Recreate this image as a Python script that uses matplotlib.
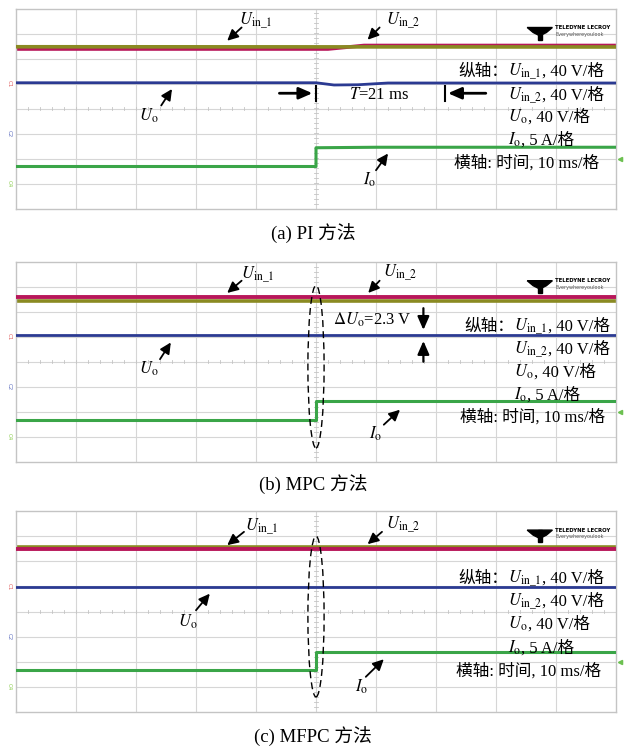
import numpy as np
import matplotlib
matplotlib.use('Agg')
import matplotlib.pyplot as plt
from matplotlib.patches import Ellipse

plt.rcParams['font.family'] = ['Liberation Serif', 'Noto Sans CJK SC']
plt.rcParams['mathtext.fontset'] = 'stix'

# x: time in ms (10 ms/div), y: screen divisions (-4..4)
# PI method
pi_uin1_t = [0, 100]
pi_uin1_v = [2.47, 2.46]
pi_uin2_t = [0, 52, 58, 100]
pi_uin2_v = [2.38, 2.38, 2.52, 2.52]
pi_uo_t = [0, 50, 53, 57, 62, 100]
pi_uo_v = [1.03, 1.03, 0.94, 0.95, 1.02, 1.02]
pi_io_t = [0, 50, 50, 60, 100]
pi_io_v = [-2.32, -2.32, -1.57, -1.55, -1.55]

# MPC method
mpc_uin1_t = [0, 100]
mpc_uin1_v = [2.44, 2.44]
mpc_uin2_t = [0, 100]
mpc_uin2_v = [2.6, 2.6]
mpc_uo_t = [0, 100]
mpc_uo_v = [1.06, 1.06]
mpc_io_t = [0, 50, 50, 100]
mpc_io_v = [-2.33, -2.33, -1.56, -1.56]

# MFPC method
mfpc_uin1_t = [0, 100]
mfpc_uin1_v = [2.56, 2.56]
mfpc_uin2_t = [0, 100]
mfpc_uin2_v = [2.5, 2.5]
mfpc_uo_t = [0, 100]
mfpc_uo_v = [0.98, 0.98]
mfpc_io_t = [0, 50, 50, 100]
mfpc_io_v = [-2.33, -2.33, -1.6, -1.6]

captions = ['(a) PI 方法', '(b) MPC 方法', '(c) MFPC 方法']

c_olive = '#8a8a22'
c_red = '#b8175a'
c_blue = '#2b3a92'
c_green = '#3aa548'
c_grid = '#d6d6d6'

U_in1 = r'$U_{\mathrm{in\_1}}$'
U_in2 = r'$U_{\mathrm{in\_2}}$'
U_o = r'$U_{\mathrm{o}}$'
I_o = r'$I_{\mathrm{o}}$'


def scope_axes(fig, rect):
    ax = fig.add_axes(rect)
    ax.set_xlim(0, 100)
    ax.set_ylim(-4, 4)
    ax.set_xticks([])
    ax.set_yticks([])
    for s in ax.spines.values():
        s.set_color('#c4c4c4')
        s.set_linewidth(1.0)
    for x in range(10, 100, 10):
        ax.axvline(x, color=c_grid, lw=0.8, zorder=0)
    for y in range(-3, 4):
        ax.axhline(y, color=c_grid, lw=0.8, zorder=0)
    # minor ticks on center cross
    for x in np.arange(0, 100.1, 2):
        ax.plot([x, x], [-0.06, 0.06], color='#c4c4c4', lw=0.6, zorder=0)
    for y in np.arange(-4, 4.01, 0.2):
        ax.plot([49.7, 50.3], [y, y], color='#c4c4c4', lw=0.6, zorder=0)
    # channel tags
    for y, col, lab in [(1.0, '#e06060', 'C1'), (-1.0, '#6070c0', 'C2'), (-3.0, '#8ccc50', 'C4')]:
        ax.text(-0.012, (y + 4) / 8, lab, transform=ax.transAxes, color=col,
                fontsize=4, rotation=270, ha='center', va='center', family='DejaVu Sans')
    ax.plot([1.006], [0.25], marker='<', color='#6cc050', ms=3,
            transform=ax.transAxes, clip_on=False)
    # logo
    ax.fill([0.852, 0.894, 0.884, 0.876, 0.870, 0.862],
            [0.905, 0.905, 0.88, 0.868, 0.868, 0.88], color='k', transform=ax.transAxes)
    ax.fill([0.870, 0.876, 0.876, 0.870], [0.905, 0.905, 0.845, 0.845],
            color='k', transform=ax.transAxes)
    ax.text(0.899, 0.905, 'TELEDYNE LECROY', transform=ax.transAxes, fontsize=3.9,
            fontweight='bold', family='DejaVu Sans', va='center', ha='left')
    ax.text(0.899, 0.872, 'Everywhereyoulook', transform=ax.transAxes, fontsize=3.5,
            family='DejaVu Sans', color='#555555', va='center', ha='left')
    return ax


def add_arrow(ax, tail, tip, lw=1.3, hl=0.65, hw=0.32):
    ax.annotate('', xy=tip, xytext=tail,
                arrowprops=dict(arrowstyle='-|>,head_length=%g,head_width=%g' % (hl, hw),
                                color='k', lw=lw, shrinkA=0, shrinkB=0), zorder=5)


def traces(ax, u1t, u1v, u2t, u2v, uot, uov, iot, iov, red_on_top=False):
    if red_on_top:
        ax.plot(u1t, u1v, color=c_olive, lw=2.6, zorder=2)
        ax.plot(u2t, u2v, color=c_red, lw=2.8, zorder=3)
    else:
        ax.plot(u2t, u2v, color=c_red, lw=2.6, zorder=2)
        ax.plot(u1t, u1v, color=c_olive, lw=2.6, zorder=3)
    ax.plot(uot, uov, color=c_blue, lw=2.0, zorder=3)
    ax.plot(iot, iov, color=c_green, lw=2.2, zorder=3)


def math_then_text(ax, x, y, math, rest, fs):
    t1 = ax.text(x, y, math, ha='left', va='baseline', fontsize=fs)
    bb = t1.get_window_extent(renderer=fig.canvas.get_renderer())
    x1 = ax.transData.inverted().transform((bb.x1, bb.y0))[0]
    ax.text(x1, y, rest, ha='left', va='baseline', fontsize=fs)


def right_text(ax, x0, x1, ys, fs=12):
    b = [y - 0.22 for y in ys]
    ax.text(x0, b[0], '纵轴：', ha='right', va='baseline', fontsize=fs)
    math_then_text(ax, x0, b[0], U_in1, ', 40 V/格', fs)
    math_then_text(ax, x0, b[1], U_in2, ', 40 V/格', fs)
    math_then_text(ax, x0, b[2], U_o, ', 40 V/格', fs)
    math_then_text(ax, x0, b[3], I_o, ', 5 A/格', fs)
    ax.text(x1, b[4], '横轴: 时间, 10 ms/格', ha='left', va='baseline', fontsize=fs)


fig = plt.figure(figsize=(6.26, 7.49), dpi=100)
W, H = 626.0, 749.0
left = 16 / W
width = 600 / W

# (a) PI
ax = scope_axes(fig, [left, 1 - 208.5 / H, width, 200 / H])
traces(ax, pi_uin1_t, pi_uin1_v, pi_uin2_t, pi_uin2_v, pi_uo_t, pi_uo_v, pi_io_t, pi_io_v)
ax.text(40, 3.5, U_in1, ha='center', va='center', fontsize=12)
add_arrow(ax, (37.6, 3.24), (35.2, 2.71))
ax.text(64.5, 3.5, U_in2, ha='center', va='center', fontsize=12)
add_arrow(ax, (60.6, 3.24), (58.6, 2.75))
ax.text(22.2, -0.3, U_o, ha='center', va='center', fontsize=12)
add_arrow(ax, (24.2, 0.12), (26.0, 0.78))
ax.text(59, -2.87, I_o, ha='center', va='center', fontsize=12)
add_arrow(ax, (60, -2.47), (62, -1.8))
add_arrow(ax, (43.9, 0.61), (49.4, 0.61), lw=2.0, hl=0.8, hw=0.35)
ax.plot([50, 50], [0.32, 0.89], color='k', lw=1.5)
ax.text(60.6, 0.55, r'$T$=21 ms', ha='center', va='center', fontsize=12)
add_arrow(ax, (78.3, 0.61), (72.0, 0.61), lw=2.0, hl=0.8, hw=0.35)
ax.plot([71.5, 71.5], [0.32, 0.89], color='k', lw=1.5)
right_text(ax, 82, 73, [1.52, 0.58, -0.31, -1.24, -2.14])

# (b) MPC
ax = scope_axes(fig, [left, 1 - 461.7 / H, width, 200 / H])
traces(ax, mpc_uin1_t, mpc_uin1_v, mpc_uin2_t, mpc_uin2_v, mpc_uo_t, mpc_uo_v,
       mpc_io_t, mpc_io_v, red_on_top=True)
ax.text(40.3, 3.5, U_in1, ha='center', va='center', fontsize=12)
add_arrow(ax, (37.6, 3.24), (35.2, 2.75))
ax.text(64, 3.55, U_in2, ha='center', va='center', fontsize=12)
add_arrow(ax, (60.6, 3.24), (58.7, 2.75))
ax.add_patch(Ellipse((50, -0.2), 2.7, 6.5, fill=False, ls=(0, (5, 3)), lw=1.0, color='k', zorder=4))
ax.text(52.9, 1.68, r'$\Delta U_{\mathrm{o}}$=2.3 V', ha='left', va='center', fontsize=12)
add_arrow(ax, (67.9, 2.14), (67.9, 1.27), lw=1.6, hl=0.8, hw=0.35)
add_arrow(ax, (67.9, 0.0), (67.9, 0.83), lw=1.6, hl=0.8, hw=0.35)
ax.text(22.2, -0.3, U_o, ha='center', va='center', fontsize=12)
add_arrow(ax, (24, 0.1), (25.8, 0.77))
ax.text(60, -2.9, I_o, ha='center', va='center', fontsize=12)
add_arrow(ax, (61.3, -2.52), (64, -1.92))
right_text(ax, 83, 74, [1.46, 0.53, -0.37, -1.3, -2.19])

# (c) MFPC
ax = scope_axes(fig, [left, 1 - 712 / H, width, 201 / H])
traces(ax, mfpc_uin1_t, mfpc_uin1_v, mfpc_uin2_t, mfpc_uin2_v, mfpc_uo_t, mfpc_uo_v,
       mfpc_io_t, mfpc_io_v, red_on_top=True)
ax.text(40.9, 3.37, U_in1, ha='center', va='center', fontsize=12)
add_arrow(ax, (38, 3.17), (35.2, 2.64))
ax.text(64.6, 3.44, U_in2, ha='center', va='center', fontsize=12)
add_arrow(ax, (61, 3.17), (58.6, 2.68))
ax.add_patch(Ellipse((50, -0.2), 2.7, 6.4, fill=False, ls=(0, (5, 3)), lw=1.0, color='k', zorder=4))
ax.text(28.6, -0.4, U_o, ha='center', va='center', fontsize=12)
add_arrow(ax, (30, 0.05), (32.3, 0.71))
ax.text(57.6, -3.0, I_o, ha='center', va='center', fontsize=12)
add_arrow(ax, (58.3, -2.6), (61.3, -1.9))
right_text(ax, 82, 73.3, [1.38, 0.45, -0.48, -1.41, -2.34])

for yc, cap in zip([234, 485, 737], captions):
    fig.text(0.5, 1 - yc / H, cap, ha='center', va='center', fontsize=13.5)

fig.savefig('out.png', dpi=100, facecolor='white')
